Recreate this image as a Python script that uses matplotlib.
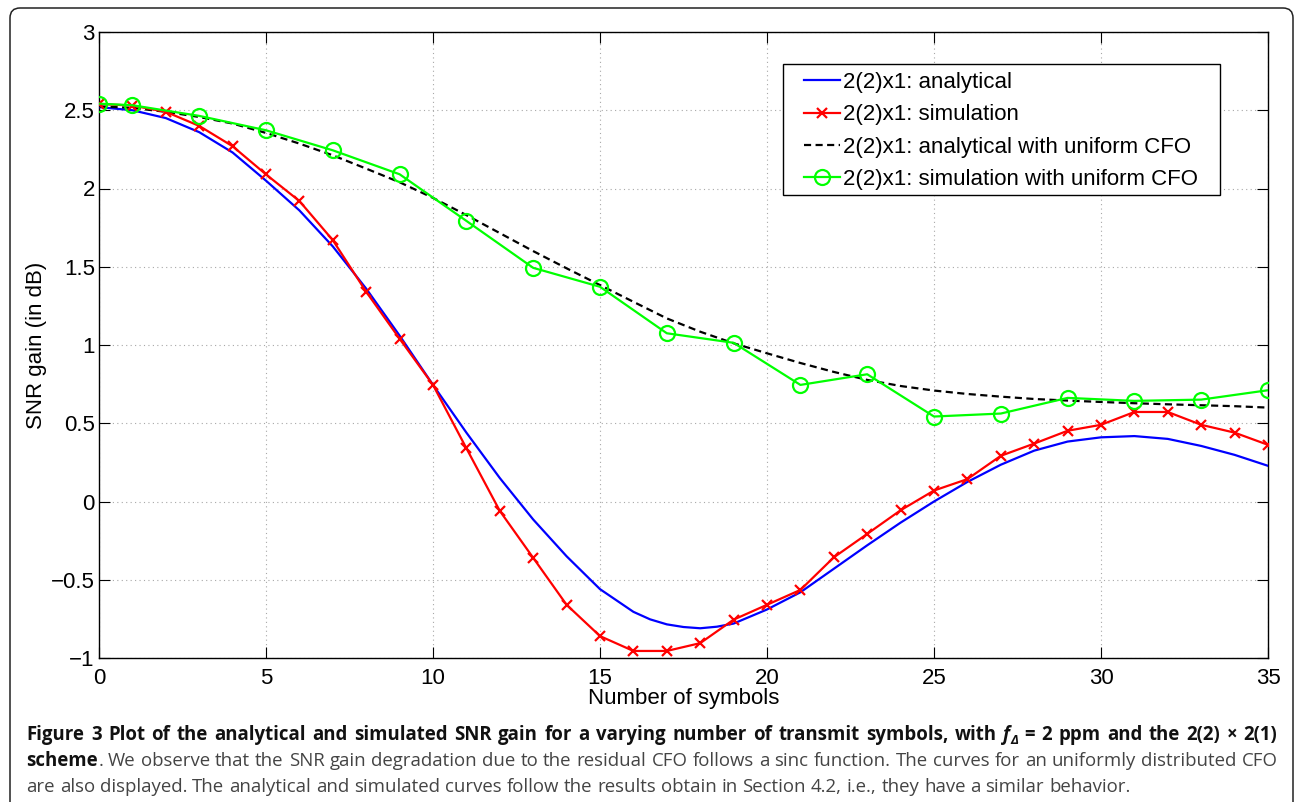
import matplotlib
matplotlib.use('Agg')
import matplotlib.pyplot as plt
from matplotlib.transforms import IdentityTransform
from matplotlib.patches import FancyBboxPatch, Rectangle

# ---------------- data ----------------
x_analytical = [0, 1, 2, 3, 4, 5, 6, 7, 8, 9,
                10, 11, 12, 13, 14, 15, 16, 16.5, 17, 17.5, 18, 18.5, 19,
                20, 21, 22, 23, 24, 25, 26, 27, 28, 29,
                30, 31, 32, 33, 34, 35]
snr_analytical = [2.52, 2.50, 2.45, 2.36, 2.23, 2.05, 1.86, 1.63, 1.36, 1.06,
                  0.745, 0.44, 0.15, -0.115, -0.35, -0.56, -0.705, -0.753, -0.785, -0.802, -0.81, -0.80, -0.78,
                  -0.69, -0.58, -0.43, -0.28, -0.135, 0.0, 0.125, 0.235, 0.325, 0.383,
                  0.41, 0.418, 0.40, 0.355, 0.298, 0.228]

x_simulation = list(range(36))
snr_simulation = [2.54, 2.53, 2.49, 2.40, 2.27, 2.09, 1.92, 1.67, 1.34, 1.04,
                  0.745, 0.34, -0.06, -0.36, -0.66, -0.86, -0.955, -0.955, -0.905, -0.755,
                  -0.66, -0.565, -0.357, -0.207, -0.056, 0.07, 0.143, 0.292, 0.37, 0.452,
                  0.49, 0.572, 0.572, 0.49, 0.44, 0.362]

x_analytical_unif = list(range(36))
snr_analytical_unif = [2.525, 2.515, 2.49, 2.457, 2.415, 2.355, 2.287, 2.212, 2.127, 2.04,
                       1.94, 1.83, 1.715, 1.60, 1.49, 1.383, 1.276, 1.17, 1.085, 1.011,
                       0.947, 0.885, 0.828, 0.777, 0.738, 0.709, 0.687, 0.67, 0.655, 0.645,
                       0.636, 0.628, 0.621, 0.615, 0.609, 0.60]

x_simulation_unif = [0, 1, 3, 5, 7, 9, 11, 13, 15, 17, 19, 21, 23, 25, 27, 29, 31, 33, 35]
snr_simulation_unif = [2.542, 2.532, 2.464, 2.372, 2.244, 2.091, 1.793, 1.493, 1.372, 1.075,
                       1.014, 0.745, 0.813, 0.543, 0.562, 0.662, 0.643, 0.651, 0.711]

series_labels = ['2(2)x1: analytical', '2(2)x1: simulation',
                 '2(2)x1: analytical with uniform CFO', '2(2)x1: simulation with uniform CFO']

x_ticks = [0, 5, 10, 15, 20, 25, 30, 35]
x_tick_labels = ['0', '5', '10', '15', '20', '25', '30', '35']
y_ticks = [-1, -0.5, 0, 0.5, 1, 1.5, 2, 2.5, 3]
y_tick_labels = ['\u22121', '\u22120.5', '0', '0.5', '1', '1.5', '2', '2.5', '3']

x_label = 'Number of symbols'
y_label = 'SNR gain (in dB)'

caption_bold_1 = ('Figure 3 Plot of the analytical and simulated SNR gain for a varying number '
                  'of transmit symbols, with')
caption_bold_2 = '= 2 ppm and the 2(2) \u00d7 2(1)'
caption_line2_bold = 'scheme'
caption_line2_rest = ('We observe that the SNR gain degradation due to the residual CFO follows a '
                      'sinc function. The curves for an uniformly distributed CFO')
caption_line3 = ('are also displayed. The analytical and simulated curves follow the results '
                 'obtain in Section 4.2, i.e., they have a similar behavior.')

# ---------------- figure ----------------
W, H = 1295, 802
fig = plt.figure(figsize=(W / 100, H / 100), dpi=100)
fig.patch.set_facecolor('white')

PLOT_FONT = ['Liberation Sans', 'DejaVu Sans']
FS = 16

ax_left, ax_right, ax_top, ax_bottom = 99, 1268, 32, 658
ax_w, ax_h = ax_right - ax_left, ax_bottom - ax_top
ax = fig.add_axes([ax_left / W, (H - ax_bottom) / H, ax_w / W, ax_h / H])

ax.plot(x_analytical, snr_analytical, color=(0, 0, 1), lw=1.6, label=series_labels[0], zorder=3)
ax.plot(x_simulation, snr_simulation, color=(1, 0, 0), lw=1.6, marker='x', ms=7, mew=1.6,
        label=series_labels[1], zorder=4)
ax.plot(x_analytical_unif, snr_analytical_unif, color='black', lw=1.6, ls=(0, (3.2, 2.0)),
        label=series_labels[2], zorder=3)
ax.plot(x_simulation_unif, snr_simulation_unif, color=(0, 1, 0), lw=1.6, marker='o', ms=10.8,
        mfc='none', mew=1.6, label=series_labels[3], zorder=5)

ax.set_xlim(0, 35)
ax.set_ylim(-1, 3)
ax.set_xticks(x_ticks, labels=x_tick_labels)
ax.set_yticks(y_ticks, labels=y_tick_labels)
ax.tick_params(axis='both', direction='in', length=8, width=0.8, top=True, right=True,
               labelsize=FS)
ax.tick_params(axis='x', pad=7)
ax.tick_params(axis='y', pad=3)
for lab in ax.get_xticklabels() + ax.get_yticklabels():
    lab.set_family(PLOT_FONT)
for sp in ax.spines.values():
    sp.set_linewidth(1.0)
    sp.set_color('black')
ax.grid(True, linestyle=(0, (1, 3)), color='#a8a8a8', linewidth=0.8)
ax.set_axisbelow(True)

ax.set_xlabel(x_label, fontsize=FS, family=PLOT_FONT)
ax.xaxis.set_label_coords(0.5, -(688 - ax_bottom) / ax_h)
ax.set_ylabel(y_label, fontsize=FS, family=PLOT_FONT)
ax.yaxis.set_label_coords(-(ax_left - 47) / ax_w, 0.5)

# legend: content placed at reference pixel position, frame drawn as its own box
leg_box = (783, 64, 1220, 195)   # left, top, right, bottom in pixels from top-left
leg = ax.legend(loc='upper left',
                bbox_to_anchor=((804 - ax_left) / ax_w, (ax_bottom - 72.0) / ax_h),
                borderaxespad=0, frameon=False,
                prop={'family': PLOT_FONT, 'size': FS}, handlelength=1.62,
                handletextpad=0.15, borderpad=0.0, labelspacing=0.51)
leg.set_zorder(10)
frame_rect = Rectangle((leg_box[0], H - leg_box[3]), leg_box[2] - leg_box[0],
                       leg_box[3] - leg_box[1], transform=IdentityTransform(),
                       facecolor='white', edgecolor='black', lw=1.0, zorder=9, clip_on=False)
ax.add_artist(frame_rect)

# outer rounded frame
frame = FancyBboxPatch((10, -30), 1283, H - 8 + 30, boxstyle='round,pad=0,rounding_size=10',
                       transform=IdentityTransform(), facecolor='none', edgecolor='#222222',
                       lw=1.1, figure=fig)
fig.patches.append(frame)

# ---------------- caption ----------------
CAP_FONT = ['Open Sans', 'DejaVu Sans']
CFS = 13.4
styles = {
    'b': dict(fontweight='bold', color='#111111', fontsize=CFS),
    'bi': dict(fontweight='bold', fontstyle='italic', color='#111111', fontsize=CFS),
    'bsub': dict(fontweight='bold', fontstyle='italic', color='#111111', fontsize=CFS * 0.7),
    'r': dict(fontweight='normal', color='#444444', fontsize=CFS),
}
sub_dy = {'bsub': -3.5}


def words(s, st):
    return [[(w, st)] for w in s.split()]


line1 = (words(caption_bold_1, 'b') + [[('f', 'bi'), ('\u0394', 'bsub')]] +
         words(caption_bold_2, 'b'))
line2 = [[(caption_line2_bold, 'b'), ('.', 'r')]] + words(caption_line2_rest, 'r')
line3 = words(caption_line3, 'r')

renderer = fig.canvas.get_renderer()


def make_text(s, st):
    return fig.text(0, 0, s, transform=IdentityTransform(), ha='left', va='baseline',
                    family=CAP_FONT, **styles[st])


def width_of(t):
    return t.get_window_extent(renderer).width


t_a = make_text('a a', 'r')
t_b = make_text('aa', 'r')
space_w = width_of(t_a) - width_of(t_b)
t_a.remove()
t_b.remove()

cap_x0, cap_x1 = 26.5, 1277.5


def draw_line(line, baseline_from_top, justify):
    y = H - baseline_from_top
    word_items = []
    for w in line:
        pieces = []
        total = 0.0
        for s, st in w:
            t = make_text(s, st)
            wd = width_of(t)
            pieces.append((t, wd, st))
            total += wd
        word_items.append((pieces, total))
    sum_w = sum(it[1] for it in word_items)
    if justify and len(word_items) > 1:
        gap = max((cap_x1 - cap_x0 - sum_w) / (len(word_items) - 1), space_w * 0.8)
    else:
        gap = space_w
    x = cap_x0
    for pieces, total in word_items:
        px = x
        for t, wd, st in pieces:
            t.set_position((px, y + sub_dy.get(st, 0)))
            px += wd
        x += total + gap


draw_line(line1, 740, True)
draw_line(line2, 766, True)
draw_line(line3, 792.5, False)

fig.savefig('out.png', dpi=100)
